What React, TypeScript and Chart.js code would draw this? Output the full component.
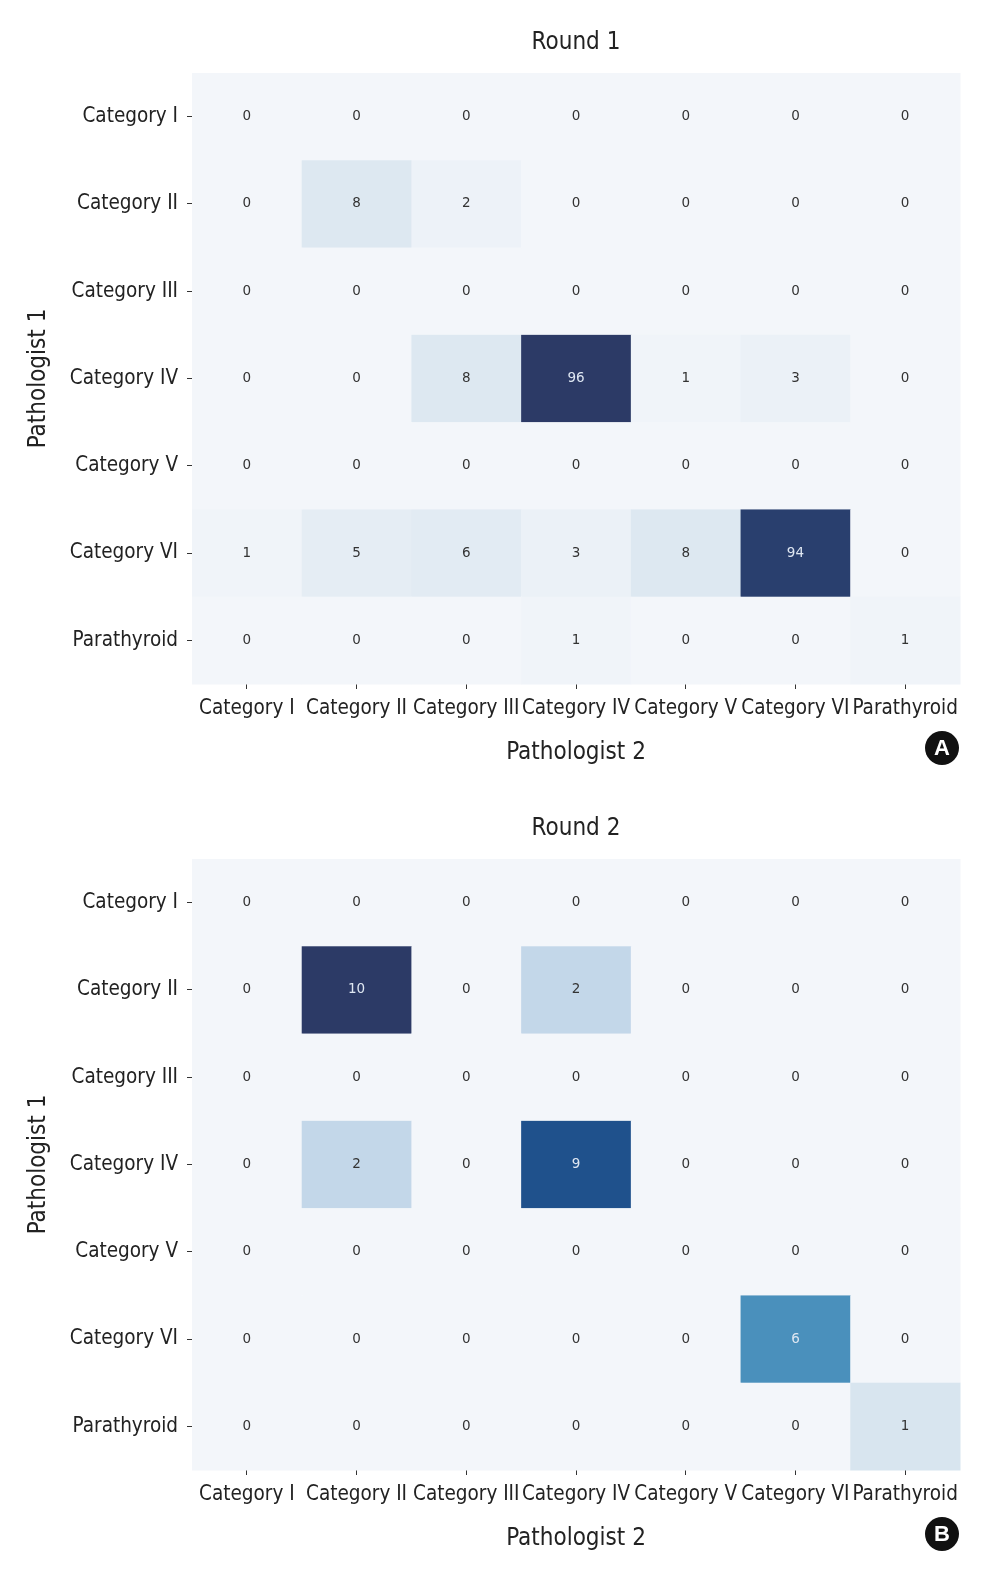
import React, { useEffect, useRef } from "react";
import { Chart, registerables } from "chart.js";

Chart.register(...registerables);

const categories = [
  "Category I",
  "Category II",
  "Category III",
  "Category IV",
  "Category V",
  "Category VI",
  "Parathyroid",
];

// rows = Pathologist 1, columns = Pathologist 2
const round1Values: number[][] = [
  [0, 0, 0, 0, 0, 0, 0],
  [0, 8, 2, 0, 0, 0, 0],
  [0, 0, 0, 0, 0, 0, 0],
  [0, 0, 8, 96, 1, 3, 0],
  [0, 0, 0, 0, 0, 0, 0],
  [1, 5, 6, 3, 8, 94, 0],
  [0, 0, 0, 1, 0, 0, 1],
];

const round2Values: number[][] = [
  [0, 0, 0, 0, 0, 0, 0],
  [0, 10, 0, 2, 0, 0, 0],
  [0, 0, 0, 0, 0, 0, 0],
  [0, 2, 0, 9, 0, 0, 0],
  [0, 0, 0, 0, 0, 0, 0],
  [0, 0, 0, 0, 0, 6, 0],
  [0, 0, 0, 0, 0, 0, 1],
];

const titles = ["Round 1", "Round 2"];
const panelLetters = ["A", "B"];
const xAxisTitle = "Pathologist 2";
const yAxisTitle = "Pathologist 1";

const NARROW = '"DejaVu Sans Condensed", "Liberation Sans Narrow", sans-serif';

const colorStops: [number, [number, number, number]][] = [
  [0, [243, 246, 250]],
  [0.1, [216, 229, 239]],
  [0.2, [195, 215, 233]],
  [0.6, [74, 144, 188]],
  [0.9, [31, 81, 140]],
  [1, [44, 58, 102]],
];

function colormap(t: number): string {
  const tt = Math.max(0, Math.min(1, t));
  for (let i = 1; i < colorStops.length; i++) {
    const [t1, c1] = colorStops[i];
    const [t0, c0] = colorStops[i - 1];
    if (tt <= t1) {
      const f = (tt - t0) / (t1 - t0);
      const c = c0.map((v, k) => Math.round(v + (c1[k] - v) * f));
      return `rgb(${c[0]},${c[1]},${c[2]})`;
    }
  }
  const c = colorStops[colorStops.length - 1][1];
  return `rgb(${c[0]},${c[1]},${c[2]})`;
}

function makeHeatmapPlugin(values: number[][], title: string, letter: string) {
  const maxV = Math.max(...values.flat());
  return {
    id: "heatmap",
    beforeDatasetsDraw(chart: any) {
      const ctx = chart.ctx;
      const xs = chart.scales.x;
      const ys = chart.scales.y;
      const cw = xs.width / categories.length;
      const ch = ys.height / categories.length;
      ctx.save();
      values.forEach((row, r) => {
        row.forEach((v, c) => {
          const cx = xs.getPixelForValue(c);
          const cy = ys.getPixelForValue(r);
          ctx.fillStyle = colormap(v / maxV);
          ctx.fillRect(cx - cw / 2, cy - ch / 2, cw + 0.5, ch + 0.5);
        });
      });
      ctx.font = '13.5px "DejaVu Sans", sans-serif';
      ctx.textAlign = "center";
      ctx.textBaseline = "middle";
      values.forEach((row, r) => {
        row.forEach((v, c) => {
          const cx = xs.getPixelForValue(c);
          const cy = ys.getPixelForValue(r);
          ctx.fillStyle = v / maxV > 0.5 ? "#dfe7f2" : "#333333";
          ctx.fillText(String(v), cx, cy);
        });
      });
      ctx.restore();
    },
    afterDraw(chart: any) {
      const ctx = chart.ctx;
      const area = chart.chartArea;
      ctx.save();
      ctx.font = `24px ${NARROW}`;
      ctx.fillStyle = "#222222";
      ctx.textAlign = "center";
      ctx.textBaseline = "middle";
      ctx.fillText(title, (area.left + area.right) / 2, 43);
      // panel letter badge
      const bx = area.right - 18;
      const by = area.bottom + 64;
      ctx.beginPath();
      ctx.arc(bx, by, 17, 0, Math.PI * 2);
      ctx.fillStyle = "#111111";
      ctx.fill();
      ctx.fillStyle = "#ffffff";
      ctx.font = `bold 22px "Liberation Sans", Arial, sans-serif`;
      ctx.fillText(letter, bx, by + 1);
      ctx.restore();
    },
  };
}

function HeatmapPanel({
  values,
  title,
  letter,
  height,
}: {
  values: number[][];
  title: string;
  letter: string;
  height: number;
}) {
  const ref = useRef<HTMLCanvasElement | null>(null);
  useEffect(() => {
    if (!ref.current) return;
    const points: { x: string; y: string }[] = [];
    values.forEach((row, r) =>
      row.forEach((_v, c) => points.push({ x: categories[c], y: categories[r] }))
    );
    const xScaleHeight = height - 684;
    const chart = new Chart(ref.current, {
      type: "scatter",
      data: {
        labels: categories,
        datasets: [
          {
            data: points as any,
            pointRadius: 0,
            pointHoverRadius: 0,
            showLine: false,
          },
        ],
      },
      options: {
        animation: false,
        responsive: false,
        events: [],
        layout: { padding: { top: 73, right: 31, left: 0, bottom: 0 } },
        plugins: { legend: { display: false }, tooltip: { enabled: false }, title: { display: false } },
        scales: {
          x: {
            type: "category",
            labels: categories,
            offset: true,
            border: { display: false },
            grid: {
              display: true,
              drawOnChartArea: false,
              drawTicks: true,
              tickLength: 5,
              tickColor: "#333333",
              offset: false,
            },
            ticks: {
              color: "#222222",
              font: { family: NARROW, size: 20.5 },
              padding: 7,
              maxRotation: 0,
              autoSkip: false,
            },
            title: {
              display: true,
              text: xAxisTitle,
              color: "#222222",
              font: { family: NARROW, size: 24 },
              padding: { top: 4, bottom: 19 + (xScaleHeight - 102) },
            },
            afterFit: (s: any) => {
              s.height = xScaleHeight;
            },
          },
          y: {
            type: "category",
            labels: categories,
            offset: true,
            border: { display: false },
            grid: {
              display: true,
              drawOnChartArea: false,
              drawTicks: true,
              tickLength: 5,
              tickColor: "#333333",
              offset: false,
            },
            ticks: {
              color: "#222222",
              font: { family: NARROW, size: 20.5 },
              padding: 9,
              autoSkip: false,
            },
            title: {
              display: true,
              text: yAxisTitle,
              color: "#222222",
              font: { family: NARROW, size: 24 },
              padding: { top: 24, bottom: 4 },
            },
            afterFit: (s: any) => {
              s.width = 192;
            },
          },
        },
      },
      plugins: [makeHeatmapPlugin(values, title, letter)],
    } as any);
    return () => chart.destroy();
  }, [values, title, letter, height]);
  return (
    <canvas ref={ref} width={991} height={height} style={{ display: "block", width: 991, height }} />
  );
}

export default function App() {
  return (
    <div style={{ position: "absolute", left: 0, top: 0, width: 991, height: 1574, background: "#ffffff" }}>
      <HeatmapPanel values={round1Values} title={titles[0]} letter={panelLetters[0]} height={786} />
      <HeatmapPanel values={round2Values} title={titles[1]} letter={panelLetters[1]} height={788} />
    </div>
  );
}
